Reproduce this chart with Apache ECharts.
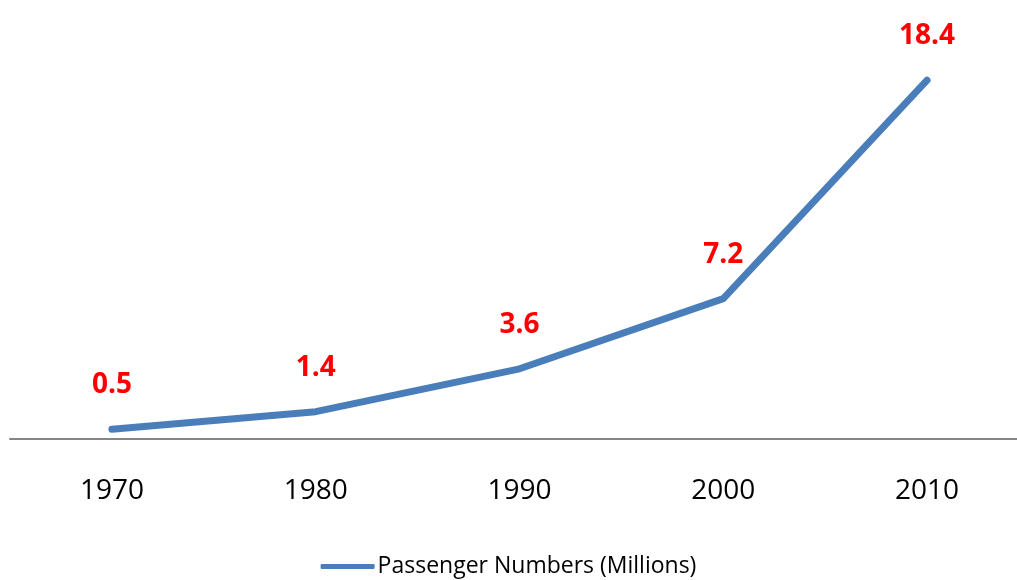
<!DOCTYPE html>
<html>
<head>
<meta charset="utf-8">
<script src="https://cdn.jsdelivr.net/npm/echarts@6/dist/echarts.min.js"></script>
<style>
  html, body { margin: 0; padding: 0; background: #fff; }
  #chart { width: 1017px; height: 580px; }
</style>
</head>
<body>
<div id="chart"></div>
<script>
// Decade years along the x axis
const years = ['1970', '1980', '1990', '2000', '2010'];
// Passengers per year, in millions
const passengers = [0.5, 1.4, 3.6, 7.2, 18.4];
const seriesName = 'Passenger Numbers (Millions)';

const font = '"Open Sans", "Noto Sans", sans-serif';
const chart = echarts.init(document.getElementById('chart'));

chart.setOption({
  backgroundColor: '#ffffff',
  animation: false,
  grid: { left: 10, width: 1019, top: 49, bottom: 141, outerBoundsMode: 'none', containLabel: false },
  legend: {
    bottom: -3,
    left: 'center',
    icon: 'roundRect',
    itemWidth: 54,
    itemHeight: 5,
    itemGap: 4,
    textStyle: { fontFamily: font, fontSize: 23, color: '#000', padding: [0, 0, 0, -2] },
    data: [seriesName]
  },
  xAxis: {
    type: 'category',
    data: years,
    boundaryGap: true,
    axisLine: { lineStyle: { color: '#868686', width: 2 } },
    axisTick: { show: false },
    axisLabel: { color: '#000', fontFamily: font, fontSize: 28, margin: 38 },
    splitLine: { show: false }
  },
  yAxis: {
    type: 'value',
    min: 0,
    max: 20,
    show: false,
    splitLine: { show: false }
  },
  series: [{
    name: seriesName,
    type: 'line',
    data: passengers,
    symbol: 'circle',
    symbolSize: 0,
    showSymbol: true,
    lineStyle: { color: '#4a7ebb', width: 7, cap: 'round', join: 'round' },
    itemStyle: { color: '#4a7ebb' },
    label: {
      show: true,
      position: 'top',
      distance: 30,
      color: '#ff0000',
      fontFamily: font,
      fontWeight: 'bold',
      fontSize: 28
    }
  }]
});
</script>
</body>
</html>
